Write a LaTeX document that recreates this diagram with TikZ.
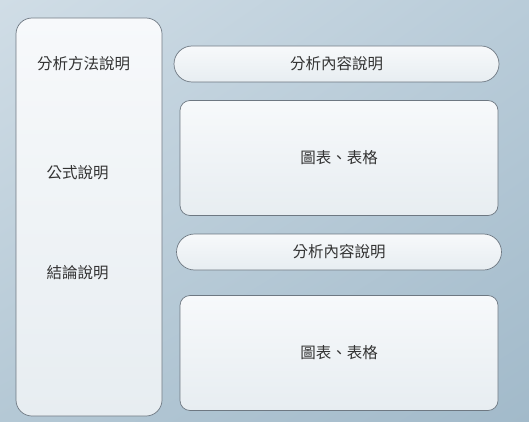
\documentclass[tikz,border=0pt]{standalone}
\usepackage{fontspec}
\newfontfamily\cjk{Noto Sans CJK TC}
\usetikzlibrary{shadings}
\definecolor{bgul}{HTML}{D0DDE6}
\definecolor{bgur}{HTML}{B9CCD9}
\definecolor{bgll}{HTML}{B4C8D5}
\definecolor{bglr}{HTML}{A2BACA}
\definecolor{boxtop}{HTML}{F7F9FB}
\definecolor{boxbot}{HTML}{E7EDF1}
\definecolor{edgegray}{HTML}{6E7882}
\definecolor{txtgray}{HTML}{333333}
\tikzset{
  panel/.style={draw=edgegray, line width=0.7pt, top color=boxtop, bottom color=boxbot,
    rounded corners=10pt, text=txtgray, font=\cjk\fontsize{15.5}{18}\selectfont},
  pill/.style={panel, rounded corners=18pt, minimum width=325pt, minimum height=36pt},
  chartbox/.style={panel, minimum width=318pt, minimum height=115pt},
  sidetext/.style={text=txtgray, font=\cjk\fontsize{15.5}{18}\selectfont}
}
\begin{document}
\begin{tikzpicture}[x=1pt,y=-1pt]
  \shade[upper left=bgul, upper right=bgur, lower left=bgll, lower right=bglr] (0,0) rectangle (529,422);
  \useasboundingbox (0,0) rectangle (529,422);

  % left column
  \node[panel, rounded corners=16pt, minimum width=146pt, minimum height=398pt] (side) at (89,217) {};
  \node[sidetext] (method) at (83.5,64) {分析方法說明};
  \node[sidetext] (formula) at (77.5,173) {公式說明};
  \node[sidetext] (result) at (77.5,273) {結論說明};

  % right column
  \node[pill] (info1) at (336.5,64) {分析內容說明};
  \node[chartbox] (chart1) at (339,158) {圖表、表格};
  \node[pill] (info2) at (339,252) {分析內容說明};
  \node[chartbox] (chart2) at (339,353) {圖表、表格};
\end{tikzpicture}
\end{document}
